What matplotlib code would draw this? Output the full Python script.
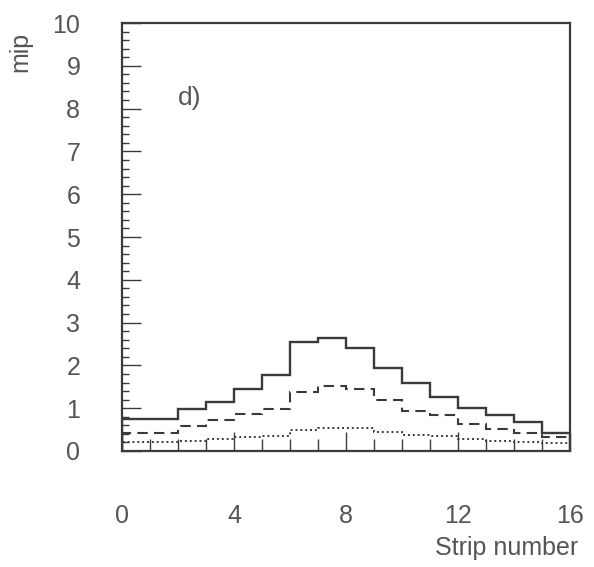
import numpy as np
import matplotlib.pyplot as plt
from matplotlib.ticker import MultipleLocator

# Bin edges (strip number) and three step histograms
edges = np.arange(0, 17)
solid = [0.74, 0.74, 0.97, 1.15, 1.45, 1.77, 2.54, 2.65, 2.40, 1.93, 1.60, 1.27, 1.00, 0.83, 0.68, 0.42]
dashed = [0.41, 0.41, 0.58, 0.72, 0.86, 0.98, 1.39, 1.52, 1.45, 1.19, 0.94, 0.83, 0.63, 0.51, 0.41, 0.33]
dotted = [0.20, 0.20, 0.24, 0.28, 0.33, 0.36, 0.49, 0.53, 0.53, 0.45, 0.37, 0.35, 0.28, 0.24, 0.20, 0.18]

xticks = [0, 4, 8, 12, 16]
yticks = list(range(0, 11))

plt.rcParams['font.family'] = ['Liberation Sans', 'DejaVu Sans']
txt = '#555555'
ink = '#3a3a3a'

fig = plt.figure(figsize=(5.94, 5.67), dpi=100)
ax = fig.add_axes([0.2054, 0.2046, 0.7542, 0.7548])

ax.stairs(solid, edges, color=ink, lw=1.7, ls='-')
ax.stairs(dashed, edges, color=ink, lw=1.5, ls=(0, (5, 3)))
ax.stairs(dotted, edges, color=ink, lw=1.4, ls=(0, (1, 1.5)))

ax.set_xlim(0, 16)
ax.set_ylim(0, 10)
ax.set_xticks(xticks)
ax.xaxis.set_minor_locator(MultipleLocator(1))
ax.set_yticks(yticks)
ax.yaxis.set_minor_locator(MultipleLocator(0.2))

ax.tick_params(axis='x', which='major', direction='in', length=14, width=1, color=ink,
               labelsize=18, labelcolor=txt, pad=38)
ax.tick_params(axis='x', which='minor', direction='in', length=9, width=1, color=ink)
ax.tick_params(axis='y', which='major', direction='in', length=14, width=1, color=ink,
               labelsize=18, labelcolor=txt, pad=30)
ax.tick_params(axis='y', which='minor', direction='in', length=5, width=1, color=ink)

for s in ax.spines.values():
    s.set_color(ink)
    s.set_linewidth(1.6)

ax.text(2.0, 8.25, 'd)', fontsize=19, color=txt, va='center')
fig.text(20 / 594, 1 - 52 / 567, 'mip', rotation=90, fontsize=18, color=txt,
         ha='center', va='center')
fig.text(578 / 594, 1 - 548 / 567, 'Strip number', fontsize=18, color=txt,
         ha='right', va='center')

fig.savefig('out.png', dpi=100)
